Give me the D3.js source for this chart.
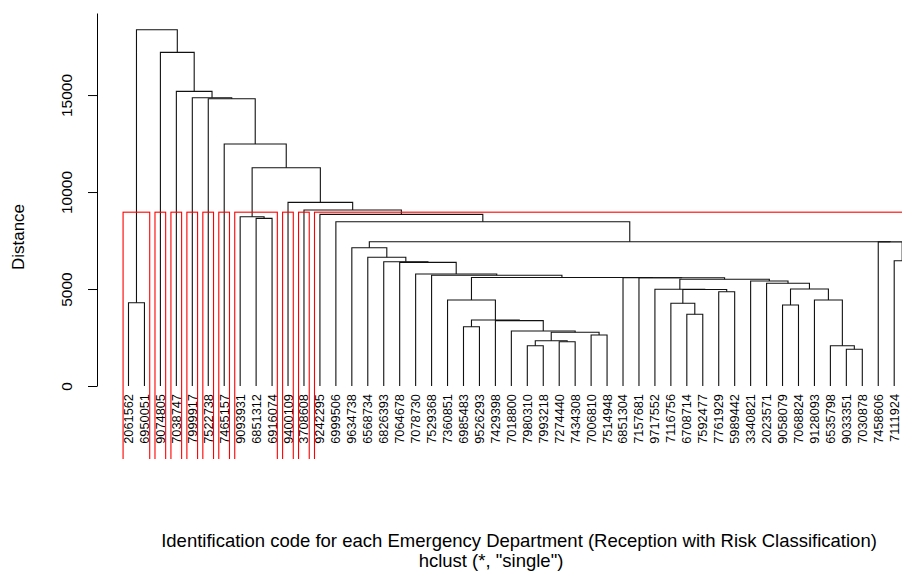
<!DOCTYPE html>
<html>
<head>
<meta charset="utf-8">
<script src="https://cdn.jsdelivr.net/npm/d3@7"></script>
<style>
  body { margin: 0; background: #fff; overflow: hidden; }
  text { font-family: "Liberation Sans", Arial, sans-serif; fill: #000; }
</style>
</head>
<body>
<div id="chart"></div>
<script>
// Leaf labels in the order they are drawn (left to right).
// The last leaf is cut off by the right edge of the original picture.
var leafLabels = [
  "2061562", "6950051", "9074805", "7038747", "7999917", "7522738", "7465157",
  "9093931", "6851312", "6916074", "9400109", "3708608", "9242295", "6999506",
  "9634738", "6568734", "6826393", "7064678", "7078730", "7529368", "7360851",
  "6985483", "9526293", "7429398", "7018800", "7980310", "7993218", "7274440",
  "7434308", "7006810", "7514948", "6851304", "7157681", "9717552", "7116756",
  "6708714", "7592477", "7761929", "5989442", "3340821", "2023571", "9058079",
  "7068824", "9128093", "6535798", "9033351", "7030878", "7458606", "7111924",
  ""
];

// hclust style merges: negative = leaf number, positive = earlier merge row
var merges = [
  [-46, -47], [-45, 1], [-26, -27], [-28, -29], [3, 4],
  [-30, -31], [5, 6], [-25, 7], [-22, -23], [-24, 8],
  [9, 10], [-36, -37], [-35, 12], [-42, -43], [-44, 2],
  [-1, -2], [-21, 11], [-38, -39], [13, 18], [-34, 19],
  [14, 15], [-41, 21], [-40, 22], [20, 23], [-33, 24],
  [-32, 25], [17, 26], [-20, 27], [-19, 28], [-18, 29],
  [-17, 30], [-16, 31], [-15, 32], [-49, -50], [-48, 34],
  [33, 35], [-14, 36], [-13, 37], [-9, -10], [-8, 39],
  [-12, 38], [-11, 41], [40, 42], [-7, 43], [-6, 44],
  [-5, 45], [-4, 46], [-3, 47], [16, 48]
];

// merge heights (distance), same order as merges
var heights = [
  1892, 2077, 2077, 2284, 2335,
  2629, 2768, 2835, 3057, 3371,
  3402, 3696, 4263, 4175, 4433,
  4294, 4433, 4861, 4974, 4990,
  5000, 5294, 5412, 5500, 5577,
  5582, 5593, 5706, 5773, 6376,
  6407, 6634, 7129, 6459, 7428,
  7438, 8469, 8850, 8644, 8727,
  9072, 9469, 11253, 12474, 14809,
  14861, 15191, 17201, 18370
];

var yTicks = [0, 5000, 10000, 15000];
var nClusters = 10;

var width = 902, height = 571;

var svg = d3.select("#chart").append("svg")
  .attr("width", width)
  .attr("height", height)
  .style("display", "block");

// leaf number -> pixel
var x = d3.scaleLinear().domain([1, 49]).range([128.5, 894.2]);
// distance -> pixel (top of range is the top of the plot region)
var y = d3.scaleLinear().domain([0, 19230]).range([386, 13]);
var yBottom = -3760; // bottom of the plot region, where the cluster boxes are cut

// the plot region clips the cluster boxes
svg.append("clipPath")
  .attr("id", "plotClip")
  .append("rect")
  .attr("x", 0)
  .attr("y", 0)
  .attr("width", width)
  .attr("height", y(yBottom));

// position of each merge in leaf units
var nodeX = [];
function posOf(c) { return c < 0 ? -c : nodeX[c - 1]; }
function heightOf(c) { return c < 0 ? 0 : heights[c - 1]; }
merges.forEach(function(m, i) {
  nodeX[i] = (posOf(m[0]) + posOf(m[1])) / 2;
});

// dendrogram branches
svg.append("g")
  .selectAll("path")
  .data(merges)
  .enter()
  .append("path")
  .attr("d", function(m, i) {
    var h = heights[i];
    return "M" + x(posOf(m[0])) + "," + y(heightOf(m[0])) +
      "V" + y(h) + "H" + x(posOf(m[1])) + "V" + y(heightOf(m[1]));
  })
  .attr("fill", "none")
  .attr("stroke", "#111")
  .attr("stroke-width", 1.1);

// leaf labels
svg.append("g")
  .selectAll("text")
  .data(leafLabels)
  .enter()
  .append("text")
  .attr("transform", function(d, i) { return "translate(" + x(i + 1) + ",394) rotate(-90)"; })
  .attr("dy", "0.35em")
  .attr("text-anchor", "end")
  .attr("font-size", "12.8px")
  .text(function(d) { return d; });

// rect.hclust style boxes for k clusters
var sortedH = heights.slice().sort(d3.descending);
var cutH = (sortedH[nClusters - 2] + sortedH[nClusters - 1]) / 2;
function leafRange(c) {
  if (c < 0) return [-c, -c];
  var a = leafRange(merges[c - 1][0]), b = leafRange(merges[c - 1][1]);
  return [Math.min(a[0], b[0]), Math.max(a[1], b[1])];
}
var clusters = [];
function cut(c) {
  if (c < 0 || heights[c - 1] < cutH) clusters.push(leafRange(c));
  else { cut(merges[c - 1][0]); cut(merges[c - 1][1]); }
}
cut(merges.length);

svg.append("g")
  .attr("clip-path", "url(#plotClip)")
  .selectAll("rect")
  .data(clusters)
  .enter()
  .append("rect")
  .attr("x", function(d) { return x(d[0] - 0.34); })
  .attr("y", y(cutH))
  .attr("width", function(d) { return x(d[1] + 0.33) - x(d[0] - 0.34); })
  .attr("height", y(yBottom) - y(cutH) + 5)
  .attr("fill", "none")
  .attr("stroke", "red")
  .attr("stroke-width", 1.1);

// y axis
var yAxis = svg.append("g")
  .attr("transform", "translate(97,0)")
  .call(d3.axisLeft(y).tickValues(yTicks).tickSize(9).tickSizeOuter(0).tickFormat(d3.format("d")));
yAxis.select(".domain").attr("stroke", "#000");
yAxis.selectAll(".tick line").attr("stroke", "#000");
yAxis.selectAll(".tick text")
  .attr("x", null)
  .attr("dy", "0.35em")
  .attr("transform", "translate(-30,0) rotate(-90)")
  .attr("text-anchor", "middle")
  .attr("font-family", null)
  .attr("font-size", "15.5px");

// axis titles
svg.append("text")
  .attr("transform", "translate(18,237) rotate(-90)")
  .attr("dy", "0.35em")
  .attr("text-anchor", "middle")
  .attr("font-size", "17px")
  .text("Distance");

svg.append("text")
  .attr("x", 519)
  .attr("y", 547)
  .attr("text-anchor", "middle")
  .attr("font-size", "18.5px")
  .text("Identification code for each Emergency Department (Reception with Risk Classification)");

svg.append("text")
  .attr("x", 491)
  .attr("y", 567)
  .attr("text-anchor", "middle")
  .attr("font-size", "18.5px")
  .text("hclust (*, \"single\")");
</script>
</body>
</html>
